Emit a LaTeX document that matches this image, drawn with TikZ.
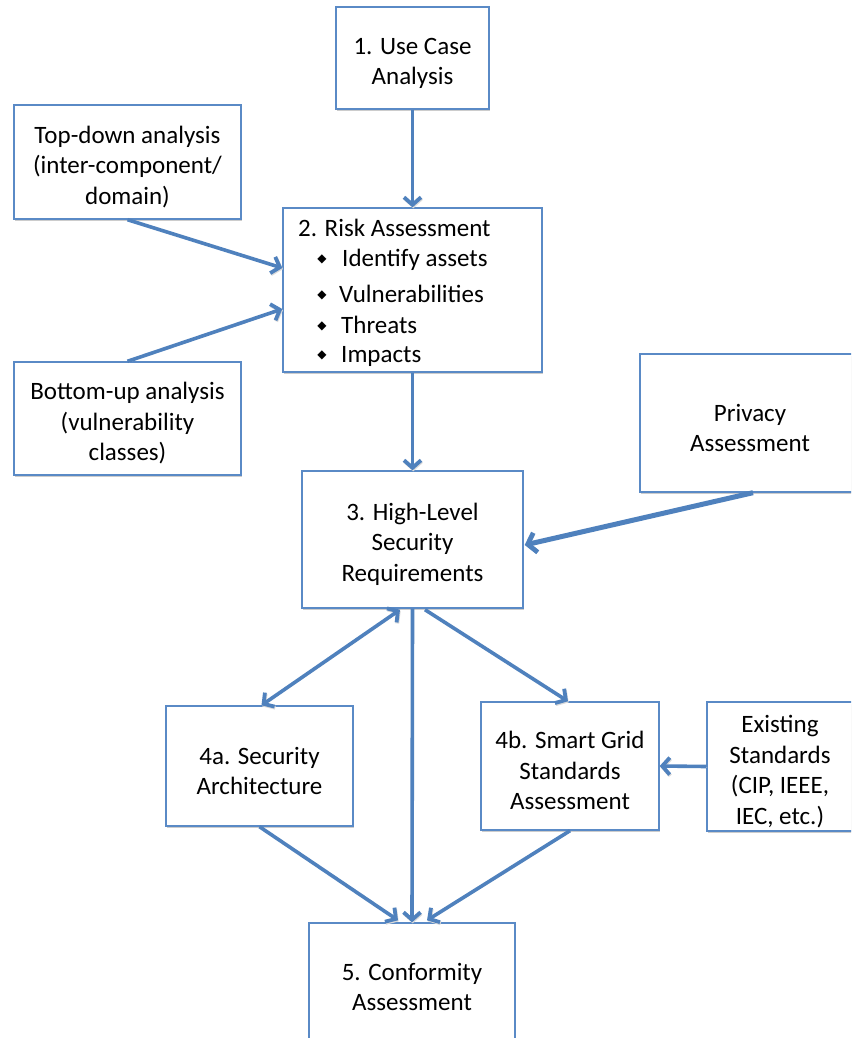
\documentclass[tikz,border=0pt]{standalone}
\usepackage{fontspec}
\setmainfont{Carlito}
\newfontfamily\symfont{DejaVu Sans}
\usetikzlibrary{arrows.meta,calc}
\definecolor{ob}{HTML}{4F81BD}
\definecolor{bb}{HTML}{5A8AC6}
\newcommand\tstrut{\rule{0pt}{27pt}}
\begin{document}
\begin{tikzpicture}[x=1pt,y=-1pt,
  txt/.style={font=\fontsize{25}{30.5}\selectfont},
  box/.style={draw=bb, line width=1.4pt, fill=white, align=center, inner sep=0pt, txt,
    preaction={fill=black!20, transform canvas={shift={(0.8pt,-1.6pt)}}}},
  connbase/.style={draw=ob, line width=3.6pt, -{Straight Barb[length=7.5pt,width=17pt,line width=3.8pt]}},
  conn/.style={connbase, preaction={draw=black!14, transform canvas={shift={(0.7pt,-1.1pt)}}}},
  dconn/.style={conn, {Straight Barb[length=7.5pt,width=17pt,line width=3.8pt]}-{Straight Barb[length=7.5pt,width=17pt,line width=3.8pt]}},
  bul/.style={font=\symfont\fontsize{12}{12}\selectfont, inner sep=0pt}]
\clip (0,0) rectangle (851,1038);
\useasboundingbox (0,0) rectangle (851,1038);
\fill[white] (0,0) rectangle (851,1038);

% boxes
\node[box, minimum width=153, minimum height=102] (b1) at (412.5,58) {\tstrut 1. Use Case\\Analysis};
\node[box, minimum width=227, minimum height=114] (td) at (127.5,162) {\tstrut Top-down analysis\\(inter-component/\\domain)};
\node[box, minimum width=259, minimum height=164] (b2) at (412.5,290) {};
\node[box, minimum width=227, minimum height=113] (bu) at (127.5,418.5) {\tstrut Bottom-up analysis\\(vulnerability\\classes)};
\node[box, minimum width=220, minimum height=138] (pv) at (750,423) {\tstrut Privacy\\Assessment};
\node[box, minimum width=221, minimum height=137] (b3) at (412.5,539.5) {\tstrut 3. High-Level\\Security\\Requirements};
\node[box, minimum width=187, minimum height=120] (b4a) at (259.5,766) {\tstrut 4a. Security\\Architecture};
\node[box, minimum width=178, minimum height=128] (b4b) at (570,766) {\tstrut 4b. Smart Grid\\Standards\\Assessment};
\node[box, minimum width=146, minimum height=129] (ex) at (780,766.5) {\tstrut Existing\\Standards\\(CIP, IEEE,\\IEC, etc.)};
\node[box, minimum width=206, minimum height=118] (b5) at (412,982) {\tstrut 5. Conformity\\Assessment};

% risk assessment contents
\node[txt, anchor=base west, inner sep=0pt] (rt) at (298,236) {2. Risk Assessment};
\node[bul] (u1) at (322,259) {◆};
\node[txt, anchor=base west, inner sep=0pt] (r1) at (342,266) {Identify assets};
\node[bul] (u2) at (322,295) {◆};
\node[txt, anchor=base west, inner sep=0pt] (r2) at (339,302) {Vulnerabilities};
\node[bul] (u3) at (322,326) {◆};
\node[txt, anchor=base west, inner sep=0pt] (r3) at (341,333) {Threats};
\node[bul] (u4) at (322,355) {◆};
\node[txt, anchor=base west, inner sep=0pt] (r4) at (341,362) {Impacts};

% connectors
\draw[conn] (b1.south) -- (b2.north);
\draw[conn] (td.south) -- ($(b2.west)+(0,-22)$);
\draw[conn] (bu.north) -- ($(b2.west)+(0,19)$);
\draw[conn] (b2.south) -- (b3.north);
\draw[connbase, line width=5pt, -{Straight Barb[length=8pt,width=20pt,line width=4.8pt]}]
  ($(pv.south)+(3,0)$) -- ($(b3.east)+(1,5.5)$);
\draw[dconn] ($(b3.south)+(-12.5,1)$) -- ($(b4a.north)+(2,0)$);
\draw[conn] (b3.south) -- (b5.north);
\draw[conn] ($(b3.south)+(12.5,1)$) -- ($(b4b.north)+(-2,0)$);
\draw[conn] (ex.west) -- (b4b.east);
\draw[conn] (b4a.south) -- ($(b5.north)+(-14,-2)$);
\draw[conn] (b4b.south) -- ($(b5.north)+(15,-2)$);
\end{tikzpicture}
\end{document}
